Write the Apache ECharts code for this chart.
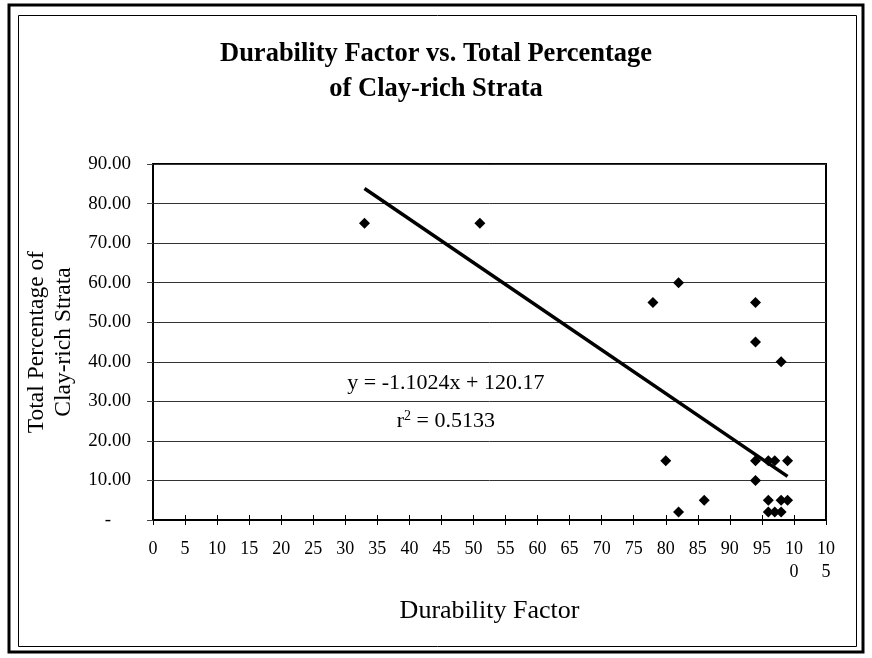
<!DOCTYPE html>
<html>
<head>
<meta charset="utf-8">
<script src="https://cdn.jsdelivr.net/npm/echarts@6/dist/echarts.min.js"></script>
<style>
html,body{margin:0;padding:0;background:#fff;}
#chart{width:872px;height:658px;}
</style>
</head>
<body>
<div id="chart"></div>
<script>
// Data
var durability = [33, 51, 78, 82, 80, 82, 86, 94, 94, 98, 94, 94, 96, 97, 99, 96, 98, 99, 96, 97, 98];
var clayPct    = [75, 75, 55, 60, 15, 2, 5, 55, 45, 40, 15, 10, 15, 15, 15, 5, 5, 5, 2, 2, 2];
var trendX = [33, 99];
var trendY = [83.79, 11.03];
var xTicks = [0,5,10,15,20,25,30,35,40,45,50,55,60,65,70,75,80,85,90,95,100,105];
var yTicks = [0,10,20,30,40,50,60,70,80,90];
var titleLines = ['Durability Factor vs. Total Percentage', 'of Clay-rich Strata'];
var eqText = 'y = -1.1024x + 120.17';
var r2Value = '0.5133';
var eqPos = [45.7, 34.5];
var r2Pos = [45.7, 25.0];

var points = durability.map(function(x, i){ return [x, clayPct[i]]; });
var trend = trendX.map(function(x, i){ return [x, trendY[i]]; });
var FONT = '"Liberation Serif", "Times New Roman", serif';

var chart = echarts.init(document.getElementById('chart'));
chart.setOption({
  animation: false,
  backgroundColor: '#fff',
  title: {
    text: titleLines.join('\n'),
    left: 'center',
    top: 32,
    textStyle: {fontFamily: FONT, fontWeight: 'bold', fontSize: 26.5, lineHeight: 35, color: '#000'}
  },
  graphic: [
    {type: 'rect', shape: {x: 9, y: 5, width: 854, height: 647}, style: {fill: 'none', stroke: '#000', lineWidth: 3}},
    {type: 'rect', shape: {x: 18.5, y: 15.5, width: 838, height: 631}, style: {fill: 'none', stroke: '#000', lineWidth: 1}}
  ],
  grid: {left: 153, right: 46, top: 164, bottom: 138, show: true, borderColor: '#000', borderWidth: 2, backgroundColor: 'transparent'},
  xAxis: [{
    type: 'value', min: 0, max: 105, interval: 5,
    name: 'Durability Factor', nameLocation: 'middle', nameGap: 78,
    nameTextStyle: {fontFamily: FONT, fontSize: 26, color: '#000'},
    axisLine: {show: true, lineStyle: {color: '#000', width: 2}},
    axisTick: {show: true, inside: false, length: 5, lineStyle: {color: '#000'}},
    axisLabel: {
      fontFamily: FONT, fontSize: 18, color: '#000', margin: 18, lineHeight: 23,
      verticalAlign: 'top',
      formatter: function(v){ var s = String(v); return s.length > 2 ? s.slice(0,2) + '\n' + s.slice(2) : s; }
    },
    splitLine: {show: false}
  }, {
    type: 'value', min: 0, max: 105, interval: 5, position: 'bottom',
    axisLine: {show: false},
    axisTick: {show: true, inside: true, length: 5, lineStyle: {color: '#000'}},
    axisLabel: {show: false},
    splitLine: {show: false}
  }],
  yAxis: {
    type: 'value', min: 0, max: 90, interval: 10,
    name: 'Total Percentage of\nClay-rich Strata', nameLocation: 'middle', nameGap: 70, nameRotate: 90,
    nameTextStyle: {fontFamily: FONT, fontSize: 23.5, lineHeight: 27, color: '#000'},
    axisLine: {show: true, lineStyle: {color: '#000', width: 2}},
    axisTick: {show: true, inside: false, length: 6, lineStyle: {color: '#444'}},
    axisLabel: {
      fontFamily: FONT, fontSize: 19, color: '#000', margin: 22,
      formatter: function(v){ return v === 0 ? '{d|-}' : v.toFixed(2); },
      rich: {d: {fontFamily: FONT, fontSize: 19, color: '#000', padding: [0, 20, 0, 0]}}
    },
    splitLine: {show: true, lineStyle: {color: '#333', width: 1}}
  },
  series: [{
    type: 'scatter',
    data: points,
    symbol: 'diamond',
    symbolSize: 11,
    itemStyle: {color: '#000', opacity: 1}
  }, {
    type: 'line',
    data: trend,
    symbol: 'none',
    lineStyle: {color: '#000', width: 3.5}
  }, {
    type: 'scatter',
    data: [eqPos, r2Pos],
    symbolSize: 0,
    silent: true,
    itemStyle: {color: 'rgba(0,0,0,0)', opacity: 1},
    label: {
      show: true, position: 'inside',
      fontFamily: FONT, fontSize: 22, color: '#000',
      formatter: function(p){ return p.dataIndex === 0 ? eqText : '{t|r}{s|2}{t| = ' + r2Value + '}'; },
      rich: {
        t: {fontFamily: FONT, fontSize: 22, color: '#000'},
        s: {fontFamily: FONT, fontSize: 14, color: '#000', verticalAlign: 'top', padding: [0, 0, 9, 0]}
      }
    }
  }]
});
</script>
</body>
</html>
